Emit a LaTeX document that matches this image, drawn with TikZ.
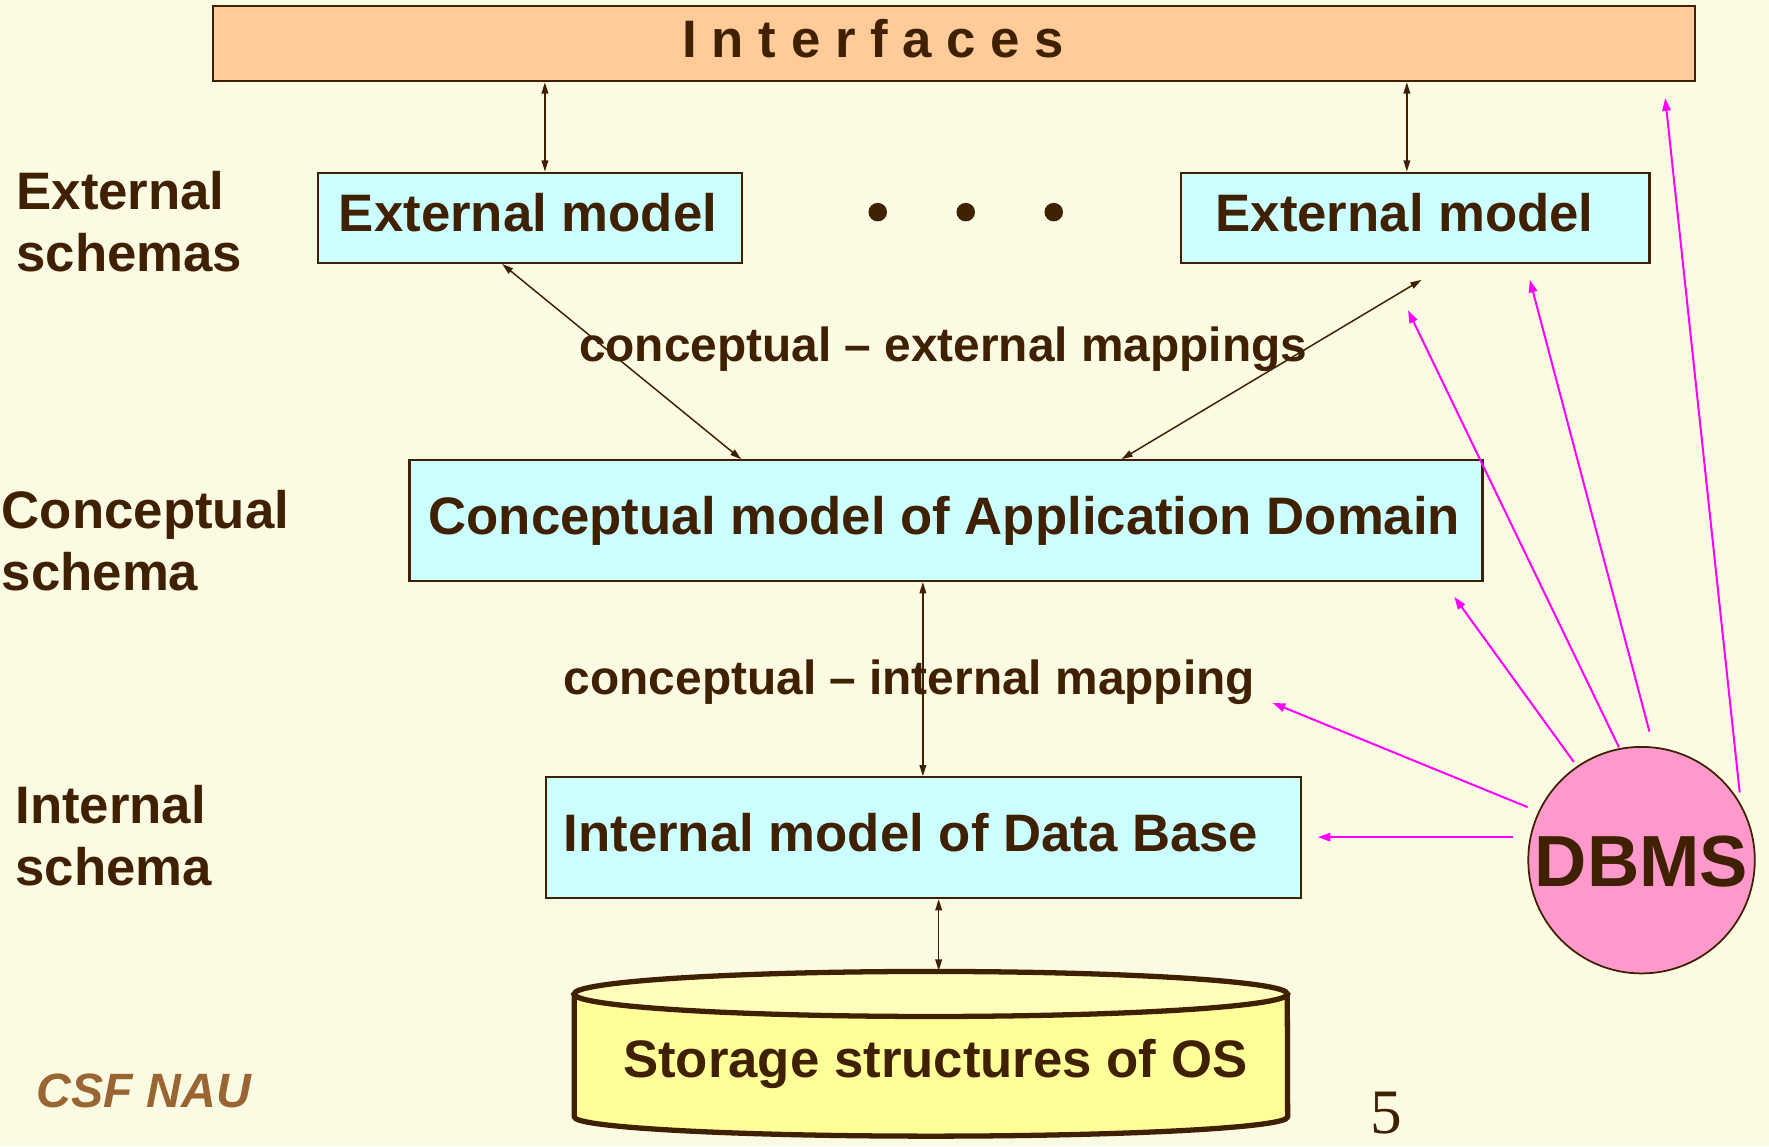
\documentclass[tikz,border=0pt]{standalone}
\usepackage{fontspec}
\setmainfont{Liberation Sans}
\newfontfamily\numfont{Liberation Serif}
\usetikzlibrary{arrows.meta}
\definecolor{bg}{HTML}{FBFAE3}
\definecolor{ink}{HTML}{3F2000}
\definecolor{edge}{HTML}{3F2000}
\definecolor{peach}{HTML}{FFCC99}
\definecolor{cyanbox}{HTML}{CCFFFF}
\definecolor{pinkc}{HTML}{FF99CC}
\definecolor{mag}{HTML}{FF00FF}
\definecolor{cylbody}{HTML}{FFFF99}
\definecolor{cyltop}{HTML}{FFFFBB}
\definecolor{csf}{HTML}{996633}
\newcommand{\PX}{0.011282cm}
\begin{document}
\begin{tikzpicture}[x=0.011282cm,y=-0.011282cm,
  txt/.style={text=ink,font=\bfseries\fontsize{15}{17.8}\selectfont},
  box/.style={draw=edge,line width=0.6pt,fill=cyanbox,inner sep=0,txt,text height=10.8pt},
  biarrow/.style={draw=edge,line width=0.42pt,{Triangle[length=3.2pt,width=1.9pt]}-{Triangle[length=3.2pt,width=1.9pt]}},
  magarrow/.style={draw=mag,line width=0.57pt,-{Triangle[length=3.6pt,width=2.4pt]}},
  sidelabel/.style={txt,align=left,anchor=north west,inner sep=0},
  maplabel/.style={text=ink,font=\bfseries\fontsize{13.6}{16}\selectfont,anchor=base,inner sep=0},
  dotnode/.style={circle,fill=ink,inner sep=0,minimum size=0.185cm}]
\fill[bg] (0,0) rectangle (1568,1016);
\useasboundingbox (0,0) rectangle (1568,1016);

% interfaces
\node[box,fill=peach,minimum width=1313*\PX,minimum height=67*\PX,text depth=2.9pt] (ifc) at (845.5,38.5)
  {I n t e r f a c e s\hspace*{1.613cm}};

% side labels
\node[sidelabel] (lblext) at (14,151) {External\\schemas};
\node[sidelabel] (lblcon) at (1,433.5) {Conceptual\\schema};
\node[sidelabel] (lblint) at (13,695) {Internal\\schema};

% external models
\node[box,minimum width=376*\PX,minimum height=80*\PX,text depth=2.8pt] (ext1) at (470,193) {External model\hspace*{0.045cm}};
\node[box,minimum width=415*\PX,minimum height=80*\PX,text depth=2.8pt] (ext2) at (1254.5,193) {External model\hspace*{0.214cm}};
\node[dotnode] (d1) at (778,188) {};
\node[dotnode] (d2) at (856,188) {};
\node[dotnode] (d3) at (934,188) {};

% conceptual
\node[box,minimum width=951*\PX,minimum height=107*\PX,text depth=2.7pt] (concept) at (838.5,461.5) {Conceptual model of Application Domain\hspace*{0.034cm}};

% internal
\node[box,minimum width=669*\PX,minimum height=107*\PX,text depth=2.8pt] (intl) at (818.5,742.5) {Internal model of Data Base\hspace*{0.248cm}};

% mapping labels
\node[maplabel] (mapext) at (836,320.6) {conceptual -- external mappings};
\node[maplabel] (mapint) at (806,616) {conceptual -- internal mapping};

% storage cylinder
\path[fill=cylbody] (509,881) -- (509,990)
  arc[start angle=180,end angle=360,x radius=3.565cm,y radius=0.192cm] -- (1141,881)
  arc[start angle=0,end angle=180,x radius=3.565cm,y radius=0.225cm] -- cycle;
\draw[edge,line width=1.5pt,fill=cyltop] (825,881) ellipse[x radius=3.565cm,y radius=0.225cm];
\draw[edge,line width=1.5pt,line join=round] (509,881) -- (509,990)
  arc[start angle=180,end angle=360,x radius=3.565cm,y radius=0.192cm] -- (1141,881);
\node[inner sep=0,minimum width=632*\PX,minimum height=146*\PX] (stor) at (825,934) {};
\node[txt,anchor=base,inner sep=0] (stortxt) at (829,955) {Storage structures of OS};

% DBMS
\node[circle,draw=edge,line width=0.5pt,fill=pinkc,inner sep=0,minimum size=200.8*\PX,
  text=ink,font=\bfseries\fontsize{20.6}{22}\selectfont,text height=14.8pt,text depth=0pt] (dbms) at (1455,762.4) {DBMS};

% footer
\node[anchor=base west,inner sep=0,text=csf,font=\bfseries\itshape\fontsize{13.7}{16}\selectfont] (csfnau) at (32,982) {CSF NAU};
\node[anchor=base,inner sep=0,text=ink,font=\numfont\fontsize{18}{20}\selectfont] (pgnum) at (1229,1005) {5};

% brown connectors
\coordinate (e2tip) at (1260,248);
\draw[biarrow] (ifc.south -| 483,0) -- (ext1.north -| 483,0);
\draw[biarrow] (ifc.south -| 1247,0) -- (ext2.north -| 1247,0);
\draw[biarrow] (ext1.south -| 445,0) -- (concept.north -| 657,0);
\draw[biarrow] (e2tip) -- (concept.north -| 994,0);
\draw[biarrow] (concept.south -| 818,0) -- (intl.north -| 818,0);
\draw[biarrow] (intl.south -| 832,0) -- (stor.north -| 832,0);

% magenta connectors
\coordinate (m1) at (1476,87);
\coordinate (m2) at (1356,248);
\coordinate (m3) at (1248,275);
\coordinate (m4) at (1289,529);
\coordinate (m5) at (1128,623);
\coordinate (m6) at (1168,742);
\draw[magarrow] ([shift={(87,-60)}]dbms.center) -- (m1);
\draw[magarrow] ([shift={(7,-114)}]dbms.center) -- (m2);
\draw[magarrow] ([shift={(-20,-100)}]dbms.center) -- (m3);
\draw[magarrow] ([shift={(-60,-87)}]dbms.center) -- (m4);
\draw[magarrow] ([shift={(-101,-47)}]dbms.center) -- (m5);
\draw[magarrow] ([shift={(-114,-20.4)}]dbms.center) -- (m6);
\end{tikzpicture}
\end{document}
